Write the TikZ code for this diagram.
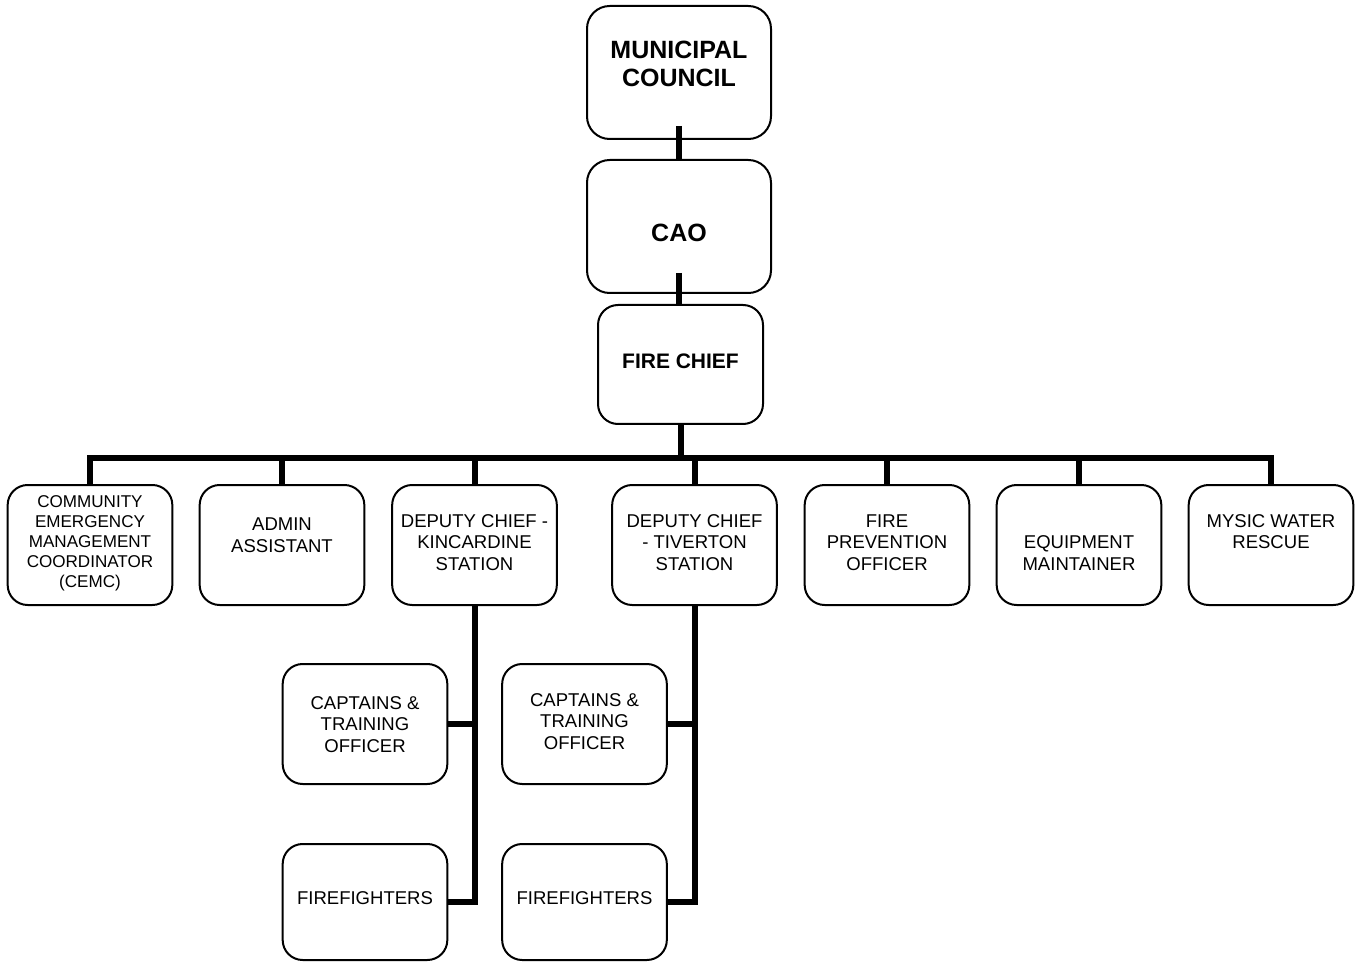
\documentclass[tikz,border=0pt]{standalone}
\usepackage{fontspec}
\setmainfont{Liberation Sans}
\tikzset{every picture/.style={line width=0.75pt}}

\begin{document}
\begin{tikzpicture}[x=0.75pt,y=0.75pt,yscale=-1,xscale=1,
	orgbox/.style={draw, line width=1.5pt, rounded corners=15pt, inner sep=0pt, outer sep=0pt, minimum width=123.5pt, minimum height=90pt},
	topbox/.style={orgbox, rounded corners=17pt, minimum width=138pt, minimum height=99.75pt},
	boldtext/.style={inner sep=0pt, align=center, font=\fontsize{18.75}{21}\selectfont\bfseries},
	rowtext/.style={inner sep=0pt, align=center, font=\fontsize{13.9}{16.2}\selectfont},
	link/.style={line width=4.5pt}]
	\useasboundingbox (0,0) rectangle (1360,962);

	%Shape: Rounded Rect [id:mc] 
	\node[topbox] (mc) at (679,72.5) {};
	% Text Node
	\node[boldtext] (mc-t) at (679,64) {MUNICIPAL\\COUNCIL};
	%Shape: Rounded Rect [id:cao] 
	\node[topbox] (cao) at (679,226.5) {};
	% Text Node
	\node[boldtext] (cao-t) at (679,233) {CAO};
	%Shape: Rounded Rect [id:fc] 
	\node[orgbox, minimum width=123.75pt, minimum height=89.25pt] (fc) at (680.5,364.5) {};
	% Text Node
	\node[boldtext, font=\fontsize{15.75}{18}\selectfont\bfseries] (fc-t) at (680.5,361) {FIRE CHIEF};

	%Shape: Rounded Rect row 
	\node[orgbox] (cemc) at (90,545) {};
	\node[orgbox] (admin) at (282,545) {};
	\node[orgbox] (depk) at (474.5,545) {};
	\node[orgbox] (dept) at (694.5,545) {};
	\node[orgbox] (firep) at (887,545) {};
	\node[orgbox] (equip) at (1079,545) {};
	\node[orgbox] (mysic) at (1271,545) {};
	% Text Node
	\node[rowtext, font=\fontsize{12.8}{15}\selectfont] (cemc-t) at (90,543) {COMMUNITY\\EMERGENCY\\MANAGEMENT\\COORDINATOR\\(CEMC)};
	\node[rowtext] (admin-t) at (282,535) {ADMIN\\ASSISTANT};
	\node[rowtext] (depk-t) at (474.5,542.5) {DEPUTY CHIEF -\\KINCARDINE\\STATION};
	\node[rowtext] (dept-t) at (694.5,542.5) {DEPUTY CHIEF\\- TIVERTON\\STATION};
	\node[rowtext] (firep-t) at (887,542.5) {FIRE\\PREVENTION\\OFFICER};
	\node[rowtext] (equip-t) at (1079,553) {EQUIPMENT\\MAINTAINER};
	\node[rowtext] (mysic-t) at (1271,531.5) {MYSIC WATER\\RESCUE};

	%Shape: Rounded Rect stations 
	\node[orgbox] (captk) at (365,724) {};
	\node[orgbox, minimum height=87pt] (ffk) at (365,902) {};
	\node[orgbox] (captt) at (584.5,724) {};
	\node[orgbox, minimum height=87pt] (fft) at (584.5,902) {};
	% Text Node
	\node[rowtext] (captk-t) at (365,724.5) {CAPTAINS \&\\TRAINING\\OFFICER};
	\node[rowtext] (ffk-t) at (365,898) {FIREFIGHTERS};
	\node[rowtext] (captt-t) at (584.5,721.5) {CAPTAINS \&\\TRAINING\\OFFICER};
	\node[rowtext] (fft-t) at (584.5,898) {FIREFIGHTERS};

	%Straight Lines 
	\draw[link] ([yshift=-9.75pt]mc.south) -- (cao.north);
	\draw[link] ([yshift=-15pt]cao.south) -- (cao.south |- fc.north);
	\coordinate (bus) at (681,457.5);
	\draw[link] (fc.south) -- (fc.south |- bus);
	\draw[link] (cemc.north) -- (cemc.north |- bus) -- (mysic.north |- bus) -- (mysic.north);
	\foreach \n in {admin,depk,dept,firep,equip}
		\draw[link] (\n.north |- bus) -- (\n.north);
	%Straight Lines stations 
	\foreach \d/\c/\f in {depk/captk/ffk,dept/captt/fft}{
		\draw[link] (\d.south) -- (\d.south |- \f.east) -- (\f.east);
		\draw[link] (\c.east) -- (\c.east -| \d.south);
	}

\end{tikzpicture}
\end{document}
